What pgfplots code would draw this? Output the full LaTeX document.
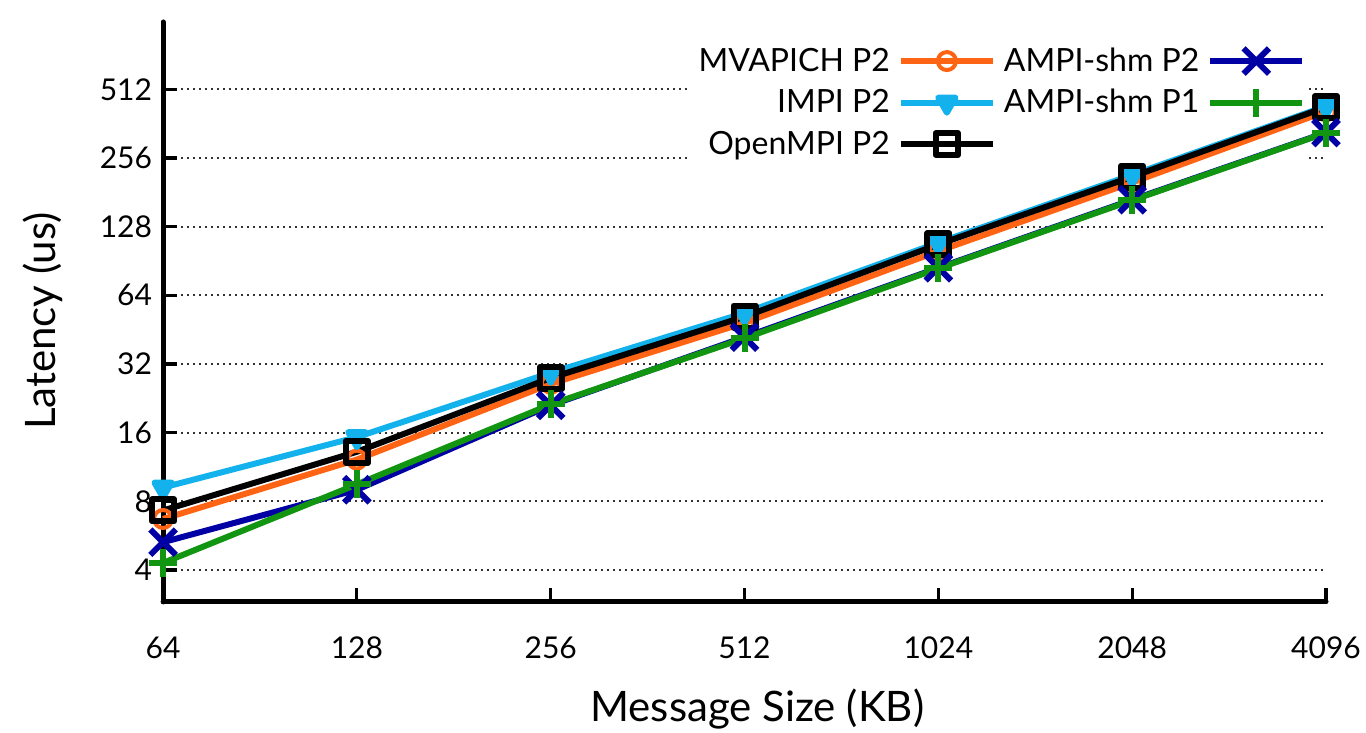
\documentclass[border=0pt]{standalone}
\usepackage{fontspec}
\setmainfont{Lato}
\usepackage{pgfplots}
\pgfplotsset{compat=1.18}

\definecolor{mvaorange}{RGB}{255,100,20}
\definecolor{impicyan}{RGB}{20,178,236}
\definecolor{ampiblue}{RGB}{0,0,165}
\definecolor{ampigreen}{RGB}{18,150,18}

% the legend box sits above the grid but below the curves
\pgfplotsset{
  layers/legend below/.define layer set={
    axis background,axis grid,axis descriptions,axis ticks,axis lines,
    axis tick labels,pre main,main,axis foreground}{
    grid style={/pgfplots/on layer=axis grid},
    tick style={/pgfplots/on layer=axis ticks},
    axis line style={/pgfplots/on layer=axis lines},
    label style={/pgfplots/on layer=axis descriptions},
    legend style={/pgfplots/on layer=axis descriptions},
    title style={/pgfplots/on layer=axis descriptions},
    ticklabel style={/pgfplots/on layer=axis tick labels},
    axis background@ style={/pgfplots/on layer=axis background},
  },
}

\begin{document}
\begin{tikzpicture}
\begin{axis}[
  set layers=legend below,
  scale only axis, width=581.5pt, height=290pt,
  xmode=log, log basis x=2, ymode=log, log basis y=2,
  xmin=64, xmax=4096, ymin=2.9, ymax=1010,
  axis x line*=bottom, axis y line*=left,
  axis line style={line width=2.5pt, line cap=round},
  clip=false,
  /pgf/number format/assume math mode=true,
  xtick={64,128,256,512,1024,2048,4096},
  xticklabels={64,128,256,512,1024,2048,4096},
  ytick={4,8,16,32,64,128,256,512},
  yticklabels={4,8,16,32,64,128,256,512},
  tick align=inside, major tick length=7pt,
  every tick/.style={black, line width=1.6pt},
  tick label style={font=\fontsize{15}{18}\selectfont},
  xticklabel style={yshift=-14pt},
  yticklabel style={xshift=-2pt},
  ymajorgrids,
  major grid style={black!80, line width=1pt, dotted},
  xlabel={Message Size (KB)},
  ylabel={Latency (us)},
  label style={font=\fontsize{21}{24}\selectfont},
  xlabel style={at={(rel axis cs:0.511,-0.184)}, anchor=center},
  ylabel style={at={(rel axis cs:-0.103,0.484)}, anchor=center},
  legend style={at={(rel axis cs:0.986,0.97)}, anchor=north east,
    fill=white, draw=none, font=\fontsize{16}{19}\selectfont,
    row sep=3.5pt, column sep=2pt, inner sep=2pt},
  legend cell align=right,
  legend plot pos=right,
  transpose legend,
  legend columns=3,
  legend image code/.code={%
    \draw[mark repeat=2, mark phase=2, #1]
      plot coordinates {(0pt,0pt) (23pt,0pt) (46pt,0pt)};},
  every axis plot/.append style={line width=3pt, line join=round},
]
\coordinate (bbsw) at (rel axis cs:-0.1402,-0.2259);
\coordinate (bbne) at (rel axis cs:1.0344,1.0379);

% MVAPICH, two processes
\addplot[mvaorange, mark=o, mark size=4.5pt, mark options={solid, line width=2pt}]
  coordinates {(64,6.7) (128,12.2) (256,26.2) (512,48.5) (1024,100) (2048,200) (4096,410)};
\addlegendentry{MVAPICH P2}

% Intel MPI, two processes
\addplot[impicyan, mark=triangle*, mark size=5pt, mark options={solid, rotate=180}]
  coordinates {(64,9.2) (128,15.3) (256,29.3) (512,53.6) (1024,109) (2048,216) (4096,432)};
\addlegendentry{IMPI P2}

% OpenMPI, two processes
\addplot[black, mark=square, mark size=5.5pt, mark options={solid, line width=3pt}]
  coordinates {(64,7.3) (128,13.2) (256,27.8) (512,51.6) (1024,107) (2048,212) (4096,428)};
\addlegendentry{OpenMPI P2}

% AMPI shared memory, two processes
\addplot[ampiblue, mark=x, mark size=9pt, mark options={solid, line width=3pt}]
  coordinates {(64,5.3) (128,9.0) (256,21.1) (512,42) (1024,84.5) (2048,168) (4096,331)};
\addlegendentry{AMPI-shm P2}

% AMPI shared memory, one process
\addplot[ampigreen, mark=+, mark size=7pt, mark options={solid, line width=3pt}]
  coordinates {(64,4.3) (128,9.5) (256,21.3) (512,41.5) (1024,84) (2048,167) (4096,330)};
\addlegendentry{AMPI-shm P1}
\end{axis}
\pgfresetboundingbox
\useasboundingbox (bbsw) rectangle (bbne);
\end{tikzpicture}
\end{document}
